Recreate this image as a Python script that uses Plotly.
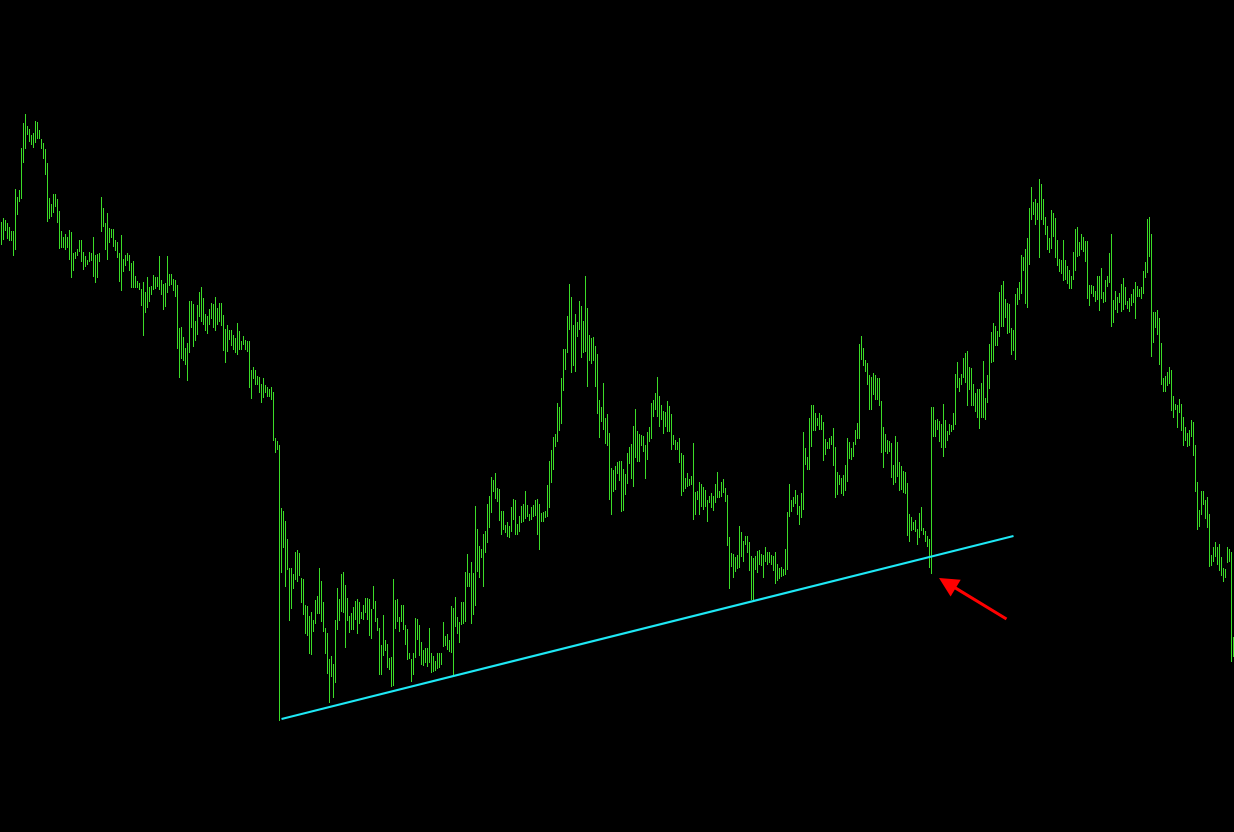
import plotly.graph_objects as go

# bar highs / lows (price points), one bar per period, left to right
high = [
778,782,780,777,773,769,769,811,803,810,852,877,886,874,871,865,867,879,878,870,
861,857,851,837,802,796,806,806,801,789,769,763,766,763,770,768,747,748,751,760,
760,748,744,740,748,747,763,745,746,747,803,792,777,787,772,771,771,760,758,747,
765,741,745,747,745,737,739,724,719,717,711,718,708,723,713,714,725,723,723,744,
720,716,717,744,726,726,721,720,715,672,673,663,652,657,699,699,696,679,695,708,
713,702,686,684,691,697,696,703,692,697,697,685,671,675,670,670,665,662,677,669,
659,664,660,659,659,630,633,630,624,623,616,622,615,613,611,613,608,562,559,555,
492,489,479,461,432,432,426,448,450,447,422,421,395,394,384,388,380,400,404,432,
419,398,372,367,341,344,336,380,412,401,426,428,415,402,384,387,393,399,401,398,
388,395,402,402,401,391,414,399,382,372,355,385,360,356,342,343,421,400,401,383,
395,395,375,371,347,341,347,382,381,375,358,350,352,352,372,347,344,339,347,347,
347,378,364,366,360,394,392,403,383,378,398,398,428,446,427,438,427,494,471,454,
451,466,469,496,504,523,520,527,512,511,489,489,475,478,474,493,501,500,476,484,
494,496,509,495,486,493,495,500,501,496,487,488,489,515,539,550,563,566,597,593,
622,651,651,684,716,703,675,686,678,699,694,679,724,692,665,662,663,654,646,600,
593,617,582,586,567,532,530,534,538,539,539,531,526,547,553,556,574,591,569,566,
565,564,555,568,573,597,600,607,623,604,595,589,588,599,594,586,565,560,558,562,
547,545,522,527,521,524,557,508,509,518,516,513,510,500,504,507,504,516,528,509,
518,521,512,505,463,447,446,443,445,474,468,459,464,464,458,444,442,444,449,450,
446,445,453,448,448,445,444,448,436,432,433,431,451,488,516,500,503,510,505,494,
507,568,552,543,582,595,595,587,582,587,585,578,561,558,562,564,572,553,528,525,
522,525,535,562,558,552,558,570,577,656,664,652,640,637,625,623,627,625,622,622,
599,573,566,560,559,557,535,564,558,538,534,529,528,517,486,483,478,480,471,487,
493,472,469,464,461,593,593,580,581,579,576,596,580,569,576,575,587,626,638,622,
626,642,647,649,633,632,616,607,611,611,617,639,602,625,656,668,677,674,669,708,
715,719,701,697,696,672,670,706,712,718,745,743,751,762,792,813,798,801,797,821,
816,801,783,774,762,790,787,782,760,741,740,760,740,734,730,724,748,771,773,758,
766,763,759,759,715,715,714,709,724,724,732,708,720,724,747,766,700,709,703,707,
716,722,713,699,702,706,711,718,714,711,713,729,738,781,783,766,688,688,690,682,
657,622,624,628,633,630,604,596,595,601,596,583,573,567,570,580,578,555,518,490,
509,509,500,503,486,445,453,458,453,456,443,432,431,453,451,448,363]

low = [
755,760,769,761,759,759,744,750,785,798,801,837,851,865,858,855,852,857,861,861,
851,841,825,778,781,783,787,793,777,751,752,752,750,752,740,722,729,741,744,748,
738,730,733,735,738,739,723,717,722,738,768,773,750,740,757,762,753,749,742,718,
709,728,734,739,729,712,712,712,712,710,694,664,687,692,698,705,710,711,713,710,
705,690,693,707,714,715,709,703,651,622,641,639,635,619,647,672,653,659,665,683,
678,675,669,666,675,681,672,669,675,678,674,649,637,648,660,654,650,647,645,650,
650,655,650,648,612,601,621,615,615,607,597,602,607,603,603,600,559,547,550,279,
427,452,413,430,379,391,411,420,418,424,397,385,366,364,346,345,368,376,386,386,
378,368,346,326,297,323,302,317,370,379,388,387,352,379,367,370,370,380,366,376,
381,380,387,380,364,361,391,378,369,325,325,344,349,332,330,313,314,371,378,368,
378,370,355,340,341,318,325,342,360,344,335,334,337,333,337,327,328,329,331,332,
335,353,354,350,348,347,324,373,366,357,375,376,378,413,413,376,385,394,428,422,
442,413,447,457,472,487,508,501,498,479,465,470,467,463,462,468,480,465,465,468,
477,478,481,483,479,480,483,484,465,450,478,478,482,483,492,517,530,553,558,569,
576,609,630,647,670,627,634,628,663,670,642,647,648,613,639,636,639,613,586,562,
578,570,556,554,500,485,508,510,526,519,488,489,505,516,536,521,513,542,538,538,
554,548,521,540,558,561,583,590,583,573,580,566,573,568,568,550,555,550,550,537,
504,508,511,513,514,515,480,485,500,485,493,490,493,478,497,492,489,497,502,502,
503,507,498,454,411,433,422,428,431,432,443,438,455,447,429,400,400,430,427,435,
434,422,438,435,437,435,429,416,419,421,423,424,425,430,483,488,493,496,485,475,
482,490,535,530,530,553,569,569,574,570,570,539,545,551,551,555,534,502,505,515,
506,504,509,518,541,540,543,555,561,561,640,634,628,615,590,590,605,600,600,594,
547,532,548,546,548,522,515,517,523,509,510,507,506,464,458,469,470,468,455,462,
469,465,458,453,432,426,563,563,570,558,552,543,552,559,565,568,570,575,612,608,
615,622,617,594,610,594,594,588,582,571,582,582,580,597,611,637,638,654,654,663,
673,673,682,666,667,645,649,640,695,700,706,729,696,692,735,780,785,775,780,742,
780,775,765,750,747,751,763,742,734,728,726,719,720,716,711,711,720,729,743,744,
750,748,738,701,694,706,703,698,700,689,701,697,698,713,717,673,677,690,687,697,
688,690,695,691,688,694,697,681,703,703,701,706,722,727,743,643,657,672,665,635,
615,608,608,614,616,589,582,590,572,587,569,554,559,553,554,563,544,508,470,473,
485,495,481,472,433,434,438,443,435,429,424,418,422,437,438,338,343]

# support trendline anchors: (bar index, price)
trend_idx = [140, 506]
trend_px = [281, 464]

# arrow target: (bar index, price)
arrow_idx = 468.75
arrow_px = 422

bars = list(range(len(high)))
xs, ys = [], []
for i, h, l in zip(bars, high, low):
    xs += [i, i, None]
    ys += [l, h, None]

fig = go.Figure()
fig.add_trace(go.Scatter(
    x=xs, y=ys, mode="lines",
    line=dict(color="#3cdc28", width=1),
    hoverinfo="skip", connectgaps=False, showlegend=False,
))
fig.add_trace(go.Scatter(
    x=trend_idx, y=trend_px, mode="lines",
    line=dict(color="#1ee8f5", width=2),
    hoverinfo="skip", showlegend=False,
))
fig.add_annotation(
    x=arrow_idx, y=arrow_px, xref="x", yref="y",
    ax=69, ay=42, axref="pixel", ayref="pixel",
    text="", showarrow=True, arrowhead=2, arrowsize=1.3,
    arrowwidth=3, arrowcolor="#ff0000", standoff=0,
)

fig.update_layout(
    width=1234, height=832,
    margin=dict(l=0, r=0, t=0, b=0),
    paper_bgcolor="#000000", plot_bgcolor="#000000",
    showlegend=False,
    xaxis=dict(range=[-0.75, 616.25], visible=False, showgrid=False, zeroline=False, fixedrange=True),
    yaxis=dict(range=[168, 1000], visible=False, showgrid=False, zeroline=False, fixedrange=True),
)

fig.write_html(
    "out.html",
    config={"displayModeBar": False},
    post_script=(
        "document.documentElement.style.margin='0';"
        "document.documentElement.style.overflow='hidden';"
        "document.body.style.margin='0';"
        "document.body.style.padding='0';"
        "document.body.style.overflow='hidden';"
        "document.body.style.background='#000';"
    ),
)
